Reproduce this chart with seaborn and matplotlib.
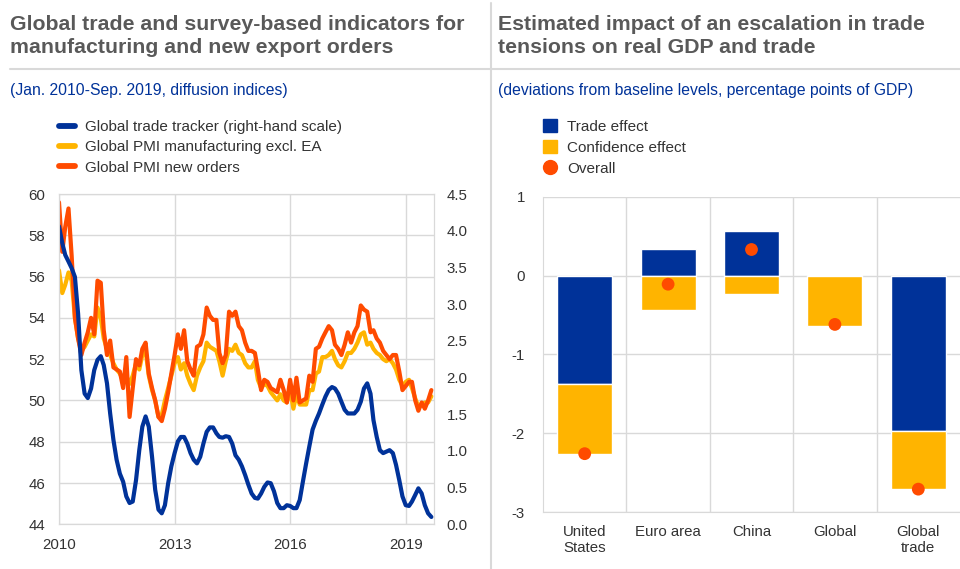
import numpy as np
import pandas as pd
import matplotlib
matplotlib.use("Agg")
import matplotlib.pyplot as plt
from matplotlib.lines import Line2D
from matplotlib.patches import Patch
import seaborn as sns

# left panel: monthly data Jan 2010 - Sep 2019
dates = pd.date_range("2010-01-01", "2019-09-01", freq="MS")

pmi_new_orders = [
    59.6, 57.2, 58.4, 59.3, 57.0, 54.0, 53.0, 52.2, 52.8, 53.3, 54.0, 53.2,
    55.8, 55.7, 53.4, 52.2, 52.9, 51.6, 51.5, 51.4, 50.6, 52.1, 49.2, 50.6,
    52.0, 51.7, 52.5, 52.8, 51.3, 50.6, 50.0, 49.2, 49.0, 49.6, 50.4, 51.3,
    52.2, 53.2, 52.5, 53.4, 51.9, 51.5, 51.2, 52.6, 52.7, 53.2, 54.5, 54.1,
    53.9, 53.9, 52.3, 51.8, 52.2, 54.3, 54.1, 54.3, 53.6, 53.4, 52.8, 52.4,
    52.4, 52.3, 51.5, 50.5, 51.0, 50.9, 50.6, 50.5, 50.4, 51.0, 50.5, 49.9,
    51.0, 50.0, 51.1, 49.9, 50.0, 50.1, 51.2, 50.9, 52.5, 52.6, 53.0, 53.3,
    53.6, 53.4, 52.7, 52.5, 52.2, 52.7, 53.3, 52.8, 53.3, 53.6, 54.6, 54.4,
    54.3, 53.3, 53.4, 53.0, 52.8, 52.4, 52.2, 52.0, 52.2, 52.2, 51.4, 50.5,
    50.7, 50.9, 50.9, 50.0, 49.5, 49.9, 49.6, 50.0, 50.5,
]

pmi_manufacturing = [
    56.3, 55.2, 55.6, 56.2, 55.8, 54.0, 53.0, 52.4, 52.6, 52.9, 53.2, 53.1,
    54.5, 54.0, 53.0, 52.5, 52.2, 51.8, 51.5, 51.3, 51.0, 51.2, 50.8, 51.2,
    51.8, 51.5, 52.2, 52.4, 51.2, 50.5, 50.0, 49.2, 49.3, 50.0, 50.6, 51.2,
    51.8, 52.1, 51.5, 51.8, 51.2, 50.8, 50.5, 51.2, 51.6, 51.9, 52.8, 52.6,
    52.5, 52.4, 51.9, 51.2, 51.9, 52.5, 52.4, 52.7, 52.3, 52.2, 51.8, 51.6,
    51.6, 51.9, 51.0, 50.6, 50.8, 50.7, 50.4, 50.2, 50.0, 50.3, 50.0, 49.9,
    50.5, 49.6, 50.3, 49.8, 49.8, 49.8, 50.5, 50.5, 51.3, 51.4, 52.1, 52.1,
    52.2, 52.4, 52.0, 51.7, 51.6, 51.9, 52.3, 52.3, 52.5, 52.8, 53.2, 53.3,
    52.7, 52.8, 52.5, 52.3, 52.2, 52.0, 51.9, 52.0, 51.8, 51.5, 51.0, 50.7,
    50.9, 51.0, 50.6, 50.1, 49.7, 49.8, 49.9, 49.9, 50.2,
]

trade_tracker = [
    4.06, 3.83, 3.67, 3.58, 3.49, 3.37, 2.87, 2.10, 1.78, 1.72, 1.85, 2.10,
    2.24, 2.29, 2.17, 1.92, 1.51, 1.15, 0.88, 0.69, 0.58, 0.38, 0.29, 0.31,
    0.60, 1.01, 1.33, 1.47, 1.33, 0.92, 0.47, 0.20, 0.15, 0.26, 0.56, 0.79,
    0.97, 1.13, 1.19, 1.19, 1.10, 0.97, 0.88, 0.83, 0.92, 1.10, 1.26, 1.32,
    1.32, 1.24, 1.19, 1.18, 1.20, 1.19, 1.10, 0.94, 0.88, 0.79, 0.67, 0.54,
    0.42, 0.36, 0.35, 0.42, 0.51, 0.57, 0.56, 0.45, 0.29, 0.22, 0.22, 0.26,
    0.25, 0.22, 0.22, 0.33, 0.58, 0.83, 1.06, 1.29, 1.41, 1.51, 1.63, 1.74,
    1.83, 1.87, 1.85, 1.78, 1.67, 1.56, 1.51, 1.51, 1.51, 1.56, 1.67, 1.85,
    1.92, 1.78, 1.42, 1.19, 1.01, 0.97, 0.99, 1.01, 0.97, 0.81, 0.60, 0.38,
    0.26, 0.25, 0.31, 0.40, 0.49, 0.42, 0.26, 0.15, 0.10,
]

# right panel: scenario impacts
regions = ["United\nStates", "Euro area", "China", "Global", "Global\ntrade"]
trade_effect = [-1.37, 0.34, 0.56, 0.01, -1.97]
confidence_effect = [-0.89, -0.44, -0.23, -0.64, -0.74]
overall = [-2.26, -0.11, 0.33, -0.62, -2.71]

BLUE = "#003299"
YELLOW = "#ffb400"
ORANGE = "#ff4b00"
GRID = "#d9d9d9"
TEXT = "#333333"
TITLE = "#595959"

sns.set_style("white")
plt.rcParams["font.family"] = ["Liberation Sans", "DejaVu Sans"]
plt.rcParams["axes.unicode_minus"] = False

fig = plt.figure(figsize=(9.6, 5.69), dpi=100)

def px(x0, y0, x1, y1):
    # pixel box -> figure fraction rect
    return [x0 / 960, 1 - y1 / 569, (x1 - x0) / 960, (y1 - y0) / 569]

# headers
fig.text(10 / 960, 1 - 15 / 569, "Global trade and survey-based indicators for\nmanufacturing and new export orders",
         ha="left", va="top", fontsize=15.3, fontweight="bold", color=TITLE, linespacing=1.28)
fig.text(498 / 960, 1 - 15 / 569, "Estimated impact of an escalation in trade\ntensions on real GDP and trade",
         ha="left", va="top", fontsize=15.3, fontweight="bold", color=TITLE, linespacing=1.28)
fig.text(10 / 960, 1 - 90 / 569, "(Jan. 2010-Sep. 2019, diffusion indices)",
         ha="left", va="center", fontsize=11.3, color=BLUE)
fig.text(498 / 960, 1 - 90 / 569, "(deviations from baseline levels, percentage points of GDP)",
         ha="left", va="center", fontsize=11.3, color=BLUE)
fig.add_artist(Line2D([10 / 960, 1], [1 - 68.5 / 569] * 2, color=GRID, lw=1.5))
fig.add_artist(Line2D([490.5 / 960] * 2, [0, 1 - 3 / 569], color=GRID, lw=1.5))

# left chart
ax = fig.add_axes(px(59, 194, 434, 524.3))
ax2 = ax.twinx()
sns.lineplot(x=dates, y=pmi_manufacturing, ax=ax, color=YELLOW, lw=3.0)
sns.lineplot(x=dates, y=pmi_new_orders, ax=ax, color=ORANGE, lw=3.0)
sns.lineplot(x=dates, y=trade_tracker, ax=ax2, color=BLUE, lw=3.0)

ax.set_xlim(pd.Timestamp("2010-01-01"), pd.Timestamp("2019-09-26"))
ax.set_ylim(44, 60)
ax.set_yticks(np.arange(44, 61, 2))
ax2.set_ylim(0, 4.5)
ax2.set_yticks(np.arange(0, 4.51, 0.5))
ax2.set_yticklabels([f"{v:.1f}" for v in np.arange(0, 4.51, 0.5)])
years = [pd.Timestamp(f"{y}-01-01") for y in (2010, 2013, 2016, 2019)]
ax.set_xticks(years)
ax.set_xticklabels(["2010", "2013", "2016", "2019"])
ax.grid(True, color=GRID, lw=1)
ax2.grid(False)
for a in (ax, ax2):
    a.set_xlabel("")
    a.set_ylabel("")
    a.tick_params(length=0, labelsize=10.8, colors=TEXT)
    for s in a.spines.values():
        s.set_color(GRID)
ax.tick_params(axis="y", pad=10)
ax.tick_params(axis="x", pad=10)
ax2.tick_params(axis="y", pad=9)

left_handles = [Line2D([], [], color=BLUE, lw=4.2),
                Line2D([], [], color=YELLOW, lw=4.2),
                Line2D([], [], color=ORANGE, lw=4.2)]
fig.legend(left_handles,
           ["Global trade tracker (right-hand scale)", "Global PMI manufacturing excl. EA", "Global PMI new orders"],
           loc="upper left", bbox_to_anchor=(59 / 960, 1 - 120 / 569), frameon=False,
           fontsize=11, handlelength=1.05, handletextpad=0.65, labelspacing=0.42,
           borderaxespad=0, borderpad=0, labelcolor=TEXT)

# right chart
bx = fig.add_axes(px(543, 196.7, 960, 512))
pos = np.arange(len(regions))
sns.barplot(x=pos, y=trade_effect, ax=bx, color=BLUE, width=0.66, saturation=1, native_scale=True)
conf_bottom = [t if t * c > 0 else 0 for t, c in zip(trade_effect, confidence_effect)]
bx.bar(pos, confidence_effect, bottom=conf_bottom, width=0.66, color=YELLOW)
sns.scatterplot(x=pos, y=overall, ax=bx, color=ORANGE, s=85, edgecolor="none", zorder=5)

bx.set_xlim(-0.5, 4.5)
bx.set_ylim(-3, 1)
bx.set_yticks([-3, -2, -1, 0, 1])
bx.set_xticks(pos)
bx.set_xticklabels(regions)
bx.set_xticks(np.arange(0.5, 4, 1), minor=True)
bx.grid(True, axis="y", color=GRID, lw=1)
bx.grid(True, axis="x", which="minor", color=GRID, lw=1)
bx.grid(False, axis="x", which="major")
bx.set_axisbelow(True)
bx.tick_params(length=0, labelsize=10.8, colors=TEXT)
bx.tick_params(axis="x", pad=9)
bx.tick_params(axis="y", pad=13)
bx.tick_params(which="minor", length=0)
for side, s in bx.spines.items():
    s.set_color(GRID)
bx.spines["right"].set_visible(False)
bx.spines["top"].set_visible(False)

right_handles = [Patch(color=BLUE), Patch(color=YELLOW),
                 Line2D([], [], color=ORANGE, marker="o", ls="none", markersize=10)]
fig.legend(right_handles, ["Trade effect", "Confidence effect", "Overall"],
           loc="upper left", bbox_to_anchor=(543 / 960, 1 - 119 / 569), frameon=False,
           fontsize=11, handlelength=0.92, handleheight=0.92, handletextpad=0.65, labelspacing=0.42,
           borderaxespad=0, borderpad=0, labelcolor=TEXT)

fig.savefig("out.png", dpi=100)
